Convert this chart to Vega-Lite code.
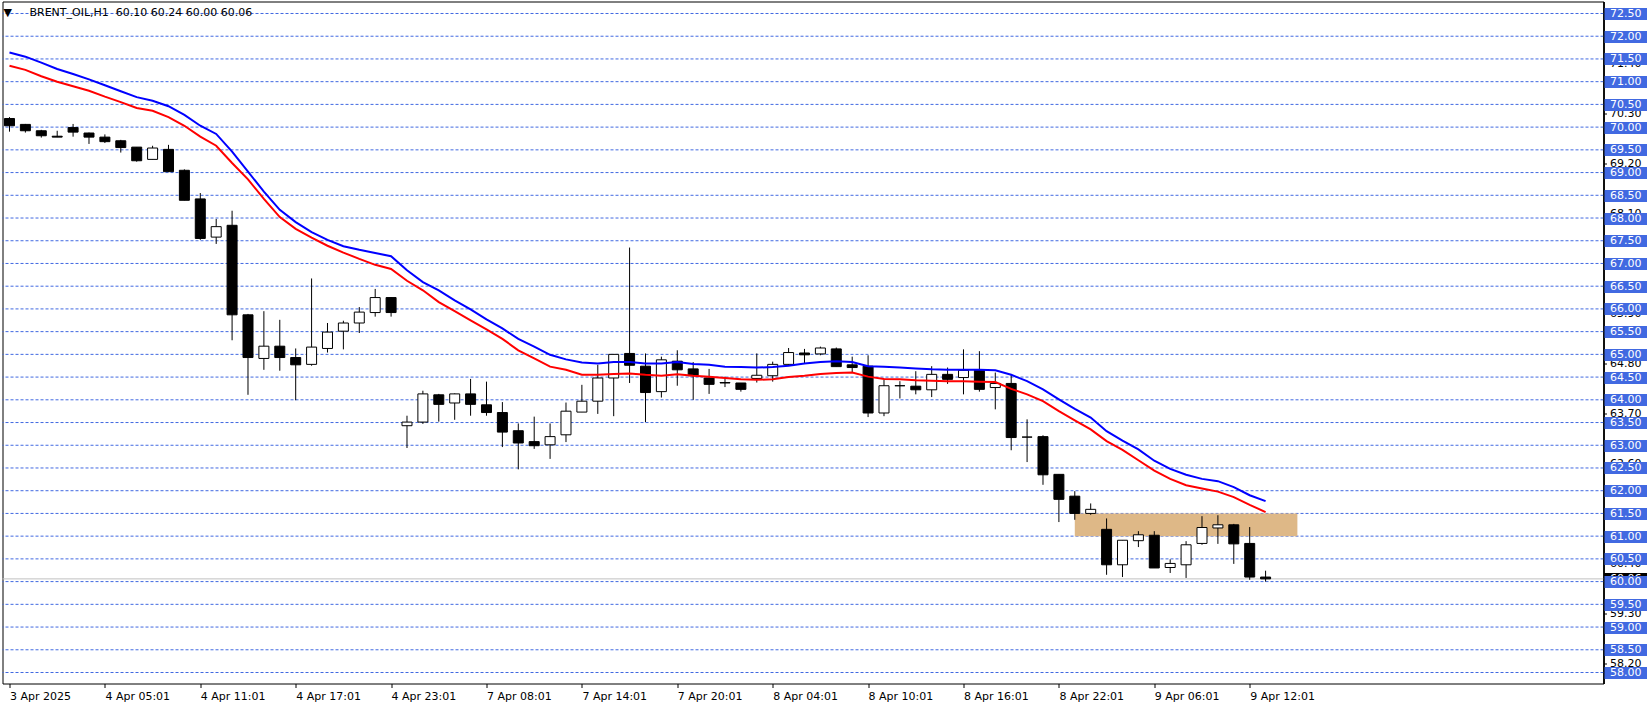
{
  "$schema": "https://vega.github.io/schema/vega-lite/v6.json",
  "width": 1601,
  "height": 682,
  "padding": {"left": 1.5, "top": 1.5, "right": 0, "bottom": 0},
  "background": "white",
  "title": {
    "text": "▼\u00a0\u00a0\u00a0\u00a0\u00a0BRENT_OIL,H1\u00a0\u00a060.10 60.24 60.00 60.06",
    "anchor": "start",
    "frame": "group",
    "orient": "top",
    "offset": -16,
    "dx": 1,
    "font": "DejaVu Sans",
    "fontSize": 11,
    "fontWeight": "normal",
    "color": "#000000"
  },
  "datasets": {
    "bars": [
      {"i": 0, "o": 70.19, "h": 70.22, "l": 69.90, "c": 70.03, "b": 71.64, "r": 71.35},
      {"i": 1, "o": 70.06, "h": 70.07, "l": 69.88, "c": 69.92, "b": 71.55, "r": 71.26},
      {"i": 2, "o": 69.92, "h": 69.94, "l": 69.77, "c": 69.81, "b": 71.42, "r": 71.12},
      {"i": 3, "o": 69.80, "h": 69.92, "l": 69.78, "c": 69.78, "b": 71.28, "r": 71.00},
      {"i": 4, "o": 69.99, "h": 70.07, "l": 69.79, "c": 69.89, "b": 71.17, "r": 70.90},
      {"i": 5, "o": 69.87, "h": 69.88, "l": 69.63, "c": 69.78, "b": 71.05, "r": 70.80},
      {"i": 6, "o": 69.78, "h": 69.84, "l": 69.65, "c": 69.68, "b": 70.92, "r": 70.67},
      {"i": 7, "o": 69.70, "h": 69.72, "l": 69.44, "c": 69.55, "b": 70.79, "r": 70.55},
      {"i": 8, "o": 69.56, "h": 69.56, "l": 69.24, "c": 69.26, "b": 70.66, "r": 70.42},
      {"i": 9, "o": 69.29, "h": 69.59, "l": 69.29, "c": 69.54, "b": 70.58, "r": 70.36},
      {"i": 10, "o": 69.51, "h": 69.61, "l": 69.02, "c": 69.02, "b": 70.46, "r": 70.22},
      {"i": 11, "o": 69.05, "h": 69.07, "l": 68.39, "c": 68.39, "b": 70.27, "r": 70.03},
      {"i": 12, "o": 68.42, "h": 68.55, "l": 67.52, "c": 67.55, "b": 70.03, "r": 69.79},
      {"i": 13, "o": 67.58, "h": 67.98, "l": 67.43, "c": 67.81, "b": 69.85, "r": 69.59},
      {"i": 14, "o": 67.84, "h": 68.16, "l": 65.31, "c": 65.87, "b": 69.46, "r": 69.21},
      {"i": 15, "o": 65.87, "h": 65.89, "l": 64.11, "c": 64.93, "b": 69.02, "r": 68.85},
      {"i": 16, "o": 64.91, "h": 65.95, "l": 64.66, "c": 65.18, "b": 68.58, "r": 68.42},
      {"i": 17, "o": 65.18, "h": 65.76, "l": 64.64, "c": 64.93, "b": 68.18, "r": 68.02},
      {"i": 18, "o": 64.93, "h": 65.13, "l": 63.99, "c": 64.77, "b": 67.91, "r": 67.76},
      {"i": 19, "o": 64.78, "h": 66.67, "l": 64.75, "c": 65.16, "b": 67.69, "r": 67.57},
      {"i": 20, "o": 65.13, "h": 65.69, "l": 65.04, "c": 65.49, "b": 67.52, "r": 67.39},
      {"i": 21, "o": 65.51, "h": 65.74, "l": 65.11, "c": 65.69, "b": 67.38, "r": 67.24},
      {"i": 22, "o": 65.69, "h": 66.04, "l": 65.47, "c": 65.93, "b": 67.30, "r": 67.10},
      {"i": 23, "o": 65.92, "h": 66.44, "l": 65.83, "c": 66.25, "b": 67.23, "r": 66.97},
      {"i": 24, "o": 66.25, "h": 66.26, "l": 65.83, "c": 65.92, "b": 67.16, "r": 66.88},
      {"i": 25, "o": 63.43, "h": 63.65, "l": 62.94, "c": 63.51, "b": 66.85, "r": 66.62},
      {"i": 26, "o": 63.51, "h": 64.20, "l": 63.47, "c": 64.13, "b": 66.59, "r": 66.41},
      {"i": 27, "o": 64.11, "h": 64.13, "l": 63.52, "c": 63.90, "b": 66.41, "r": 66.15},
      {"i": 28, "o": 63.93, "h": 64.14, "l": 63.56, "c": 64.13, "b": 66.19, "r": 65.95},
      {"i": 29, "o": 64.13, "h": 64.46, "l": 63.65, "c": 63.90, "b": 65.99, "r": 65.75},
      {"i": 30, "o": 63.89, "h": 64.40, "l": 63.65, "c": 63.72, "b": 65.77, "r": 65.55},
      {"i": 31, "o": 63.72, "h": 63.95, "l": 62.96, "c": 63.29, "b": 65.57, "r": 65.34},
      {"i": 32, "o": 63.32, "h": 63.48, "l": 62.47, "c": 63.05, "b": 65.34, "r": 65.09},
      {"i": 33, "o": 63.08, "h": 63.63, "l": 62.92, "c": 62.99, "b": 65.17, "r": 64.91},
      {"i": 34, "o": 63.01, "h": 63.48, "l": 62.70, "c": 63.19, "b": 64.99, "r": 64.73},
      {"i": 35, "o": 63.23, "h": 63.94, "l": 63.07, "c": 63.75, "b": 64.89, "r": 64.66},
      {"i": 36, "o": 63.73, "h": 64.33, "l": 63.73, "c": 63.97, "b": 64.82, "r": 64.55},
      {"i": 37, "o": 63.97, "h": 64.77, "l": 63.69, "c": 64.48, "b": 64.80, "r": 64.55},
      {"i": 38, "o": 64.48, "h": 65.00, "l": 63.64, "c": 65.00, "b": 64.83, "r": 64.57},
      {"i": 39, "o": 65.02, "h": 67.35, "l": 64.37, "c": 64.76, "b": 64.83, "r": 64.58},
      {"i": 40, "o": 64.74, "h": 65.02, "l": 63.51, "c": 64.16, "b": 64.80, "r": 64.55},
      {"i": 41, "o": 64.18, "h": 64.95, "l": 64.05, "c": 64.88, "b": 64.80, "r": 64.53},
      {"i": 42, "o": 64.85, "h": 65.09, "l": 64.31, "c": 64.66, "b": 64.83, "r": 64.56},
      {"i": 43, "o": 64.68, "h": 64.83, "l": 64.00, "c": 64.53, "b": 64.79, "r": 64.53},
      {"i": 44, "o": 64.48, "h": 64.68, "l": 64.13, "c": 64.34, "b": 64.77, "r": 64.51},
      {"i": 45, "o": 64.38, "h": 64.51, "l": 64.28, "c": 64.37, "b": 64.73, "r": 64.48},
      {"i": 46, "o": 64.37, "h": 64.37, "l": 64.18, "c": 64.23, "b": 64.72, "r": 64.45},
      {"i": 47, "o": 64.47, "h": 65.02, "l": 64.38, "c": 64.54, "b": 64.71, "r": 64.44},
      {"i": 48, "o": 64.53, "h": 64.84, "l": 64.40, "c": 64.78, "b": 64.72, "r": 64.45},
      {"i": 49, "o": 64.78, "h": 65.14, "l": 64.76, "c": 65.04, "b": 64.75, "r": 64.50},
      {"i": 50, "o": 65.03, "h": 65.12, "l": 64.81, "c": 64.99, "b": 64.80, "r": 64.53},
      {"i": 51, "o": 65.01, "h": 65.17, "l": 64.98, "c": 65.14, "b": 64.83, "r": 64.57},
      {"i": 52, "o": 65.12, "h": 65.15, "l": 64.73, "c": 64.73, "b": 64.85, "r": 64.59},
      {"i": 53, "o": 64.77, "h": 64.95, "l": 64.60, "c": 64.71, "b": 64.83, "r": 64.60},
      {"i": 54, "o": 64.74, "h": 64.98, "l": 63.62, "c": 63.71, "b": 64.74, "r": 64.51},
      {"i": 55, "o": 63.71, "h": 64.44, "l": 63.64, "c": 64.31, "b": 64.73, "r": 64.46},
      {"i": 56, "o": 64.31, "h": 64.41, "l": 64.03, "c": 64.31, "b": 64.71, "r": 64.45},
      {"i": 57, "o": 64.30, "h": 64.63, "l": 64.12, "c": 64.22, "b": 64.69, "r": 64.43},
      {"i": 58, "o": 64.22, "h": 64.74, "l": 64.06, "c": 64.56, "b": 64.67, "r": 64.42},
      {"i": 59, "o": 64.56, "h": 64.71, "l": 64.35, "c": 64.45, "b": 64.66, "r": 64.41},
      {"i": 60, "o": 64.49, "h": 65.11, "l": 64.12, "c": 64.65, "b": 64.66, "r": 64.41},
      {"i": 61, "o": 64.65, "h": 65.07, "l": 64.18, "c": 64.23, "b": 64.66, "r": 64.40},
      {"i": 62, "o": 64.27, "h": 64.60, "l": 63.79, "c": 64.36, "b": 64.65, "r": 64.39},
      {"i": 63, "o": 64.36, "h": 64.55, "l": 62.89, "c": 63.17, "b": 64.55, "r": 64.24},
      {"i": 64, "o": 63.18, "h": 63.57, "l": 62.63, "c": 63.18, "b": 64.41, "r": 64.12},
      {"i": 65, "o": 63.19, "h": 63.22, "l": 62.13, "c": 62.35, "b": 64.23, "r": 63.97},
      {"i": 66, "o": 62.36, "h": 62.36, "l": 61.31, "c": 61.81, "b": 64.01, "r": 63.75},
      {"i": 67, "o": 61.88, "h": 61.99, "l": 61.36, "c": 61.50, "b": 63.80, "r": 63.55},
      {"i": 68, "o": 61.50, "h": 61.72, "l": 61.47, "c": 61.59, "b": 63.61, "r": 63.35},
      {"i": 69, "o": 61.15, "h": 61.39, "l": 60.15, "c": 60.37, "b": 63.31, "r": 63.09},
      {"i": 70, "o": 60.37, "h": 60.91, "l": 60.10, "c": 60.91, "b": 63.10, "r": 62.90},
      {"i": 71, "o": 60.90, "h": 61.11, "l": 60.76, "c": 61.03, "b": 62.91, "r": 62.67},
      {"i": 72, "o": 61.02, "h": 61.11, "l": 60.30, "c": 60.30, "b": 62.66, "r": 62.44},
      {"i": 73, "o": 60.31, "h": 60.49, "l": 60.19, "c": 60.40, "b": 62.48, "r": 62.26},
      {"i": 74, "o": 60.37, "h": 60.89, "l": 60.08, "c": 60.81, "b": 62.35, "r": 62.12},
      {"i": 75, "o": 60.84, "h": 61.44, "l": 60.81, "c": 61.19, "b": 62.26, "r": 62.05},
      {"i": 76, "o": 61.18, "h": 61.46, "l": 60.83, "c": 61.25, "b": 62.21, "r": 61.98},
      {"i": 77, "o": 61.25, "h": 61.27, "l": 60.39, "c": 60.83, "b": 62.08, "r": 61.86},
      {"i": 78, "o": 60.84, "h": 61.20, "l": 60.04, "c": 60.10, "b": 61.90, "r": 61.69},
      {"i": 79, "o": 60.10, "h": 60.24, "l": 60.00, "c": 60.06, "b": 61.77, "r": 61.53}
    ],
    "levels": [
      {"p": 58.0}, {"p": 58.5}, {"p": 59.0}, {"p": 59.5}, {"p": 60.0}, {"p": 60.5},
      {"p": 61.0}, {"p": 61.5}, {"p": 62.0}, {"p": 62.5}, {"p": 63.0}, {"p": 63.5},
      {"p": 64.0}, {"p": 64.5}, {"p": 65.0}, {"p": 65.5}, {"p": 66.0}, {"p": 66.5},
      {"p": 67.0}, {"p": 67.5}, {"p": 68.0}, {"p": 68.5}, {"p": 69.0}, {"p": 69.5},
      {"p": 70.0}, {"p": 70.5}, {"p": 71.0}, {"p": 71.5}, {"p": 72.0}, {"p": 72.5}
    ],
    "zone": [{"x1": 67, "x2": 81, "y1": 61.0, "y2": 61.5}],
    "bid": [{"p": 60.06}]
  },
  "layer": [
    {
      "data": {"name": "levels"},
      "mark": {"type": "rule", "color": "#4169E1", "strokeWidth": 1, "strokeDash": [3, 2]},
      "encoding": {
        "y": {
          "field": "p", "type": "quantitative",
          "scale": {"domain": [57.758, 72.764], "nice": false, "zero": false},
          "axis": {
            "orient": "right", "title": null, "grid": false, "zindex": 1,
            "values": [58, 58.5, 59, 59.5, 60, 60.5, 61, 61.5, 62, 62.5, 63, 63.5, 64, 64.5, 65, 65.5, 66, 66.5, 67, 67.5, 68, 68.5, 69, 69.5, 70, 70.5, 71, 71.5, 72, 72.5],
            "format": ".2f",
            "tickColor": "#4169E1", "tickWidth": 12, "tickSize": 43,
            "labelColor": "#FFFFFF", "labelPadding": -37,
            "labelFont": "DejaVu Sans", "labelFontSize": 11,
            "labelOverlap": false, "labelFlush": false,
            "domainColor": "#000000", "domainWidth": 1
          }
        }
      }
    },
    {
      "data": {"name": "bid"},
      "mark": {"type": "rule", "color": "#C0C0C0", "strokeWidth": 1},
      "encoding": {
        "y": {
          "field": "p", "type": "quantitative",
          "scale": {"domain": [57.758, 72.764], "nice": false, "zero": false},
          "axis": {
            "orient": "right", "title": null, "grid": false, "zindex": 0,
            "values": [60.06], "format": ".2f",
            "tickColor": "#000000", "tickWidth": 12, "tickSize": 43,
            "labelColor": "#FFFFFF", "labelPadding": -37,
            "labelFont": "DejaVu Sans", "labelFontSize": 11,
            "labelOverlap": false, "labelFlush": false,
            "domainColor": "#000000"
          }
        }
      }
    },
    {
      "data": {"name": "zone"},
      "mark": {"type": "rect", "color": "#DEB887"},
      "encoding": {
        "x": {"field": "x1", "type": "quantitative", "title": null, "scale": {"domain": [-0.125, 99.9375], "nice": false, "zero": false}},
        "x2": {"field": "x2"},
        "y": {"field": "y1", "type": "quantitative", "scale": {"domain": [57.758, 72.764], "nice": false, "zero": false}, "axis": null},
        "y2": {"field": "y2"}
      }
    },
    {
      "data": {"name": "bars"},
      "mark": {"type": "rule", "color": "#000000", "strokeWidth": 1},
      "encoding": {
        "x": {
          "field": "i", "type": "quantitative", "title": null,
          "scale": {"domain": [-0.125, 99.9375], "nice": false, "zero": false},
          "axis": {
            "values": [0, 6, 12, 18, 24, 30, 36, 42, 48, 54, 60, 66, 72, 78],
            "labelExpr": "['3 Apr 2025','4 Apr 05:01','4 Apr 11:01','4 Apr 17:01','4 Apr 23:01','7 Apr 08:01','7 Apr 14:01','7 Apr 20:01','8 Apr 04:01','8 Apr 10:01','8 Apr 16:01','8 Apr 22:01','9 Apr 06:01','9 Apr 12:01'][round(datum.value / 6)]",
            "labelAlign": "left", "labelBaseline": "top", "labelPadding": 3,
            "labelFont": "DejaVu Sans", "labelFontSize": 11, "labelColor": "#000000",
            "labelFlush": false, "labelOverlap": false, "labelBound": false,
            "tickSize": 4, "tickColor": "#000000", "domain": false, "grid": false
          }
        },
        "y": {"field": "l", "type": "quantitative", "scale": {"domain": [57.758, 72.764], "nice": false, "zero": false}, "axis": null},
        "y2": {"field": "h"}
      }
    },
    {
      "data": {"name": "bars"},
      "mark": {"type": "bar", "size": 10, "stroke": "#000000", "strokeWidth": 1},
      "encoding": {
        "x": {"field": "i", "type": "quantitative", "title": null, "scale": {"domain": [-0.125, 99.9375], "nice": false, "zero": false}},
        "y": {
          "field": "o", "type": "quantitative",
          "scale": {"domain": [57.758, 72.764], "nice": false, "zero": false},
          "axis": {
            "orient": "right", "title": null, "grid": false, "zindex": 0,
            "values": [58.2, 59.3, 60.4, 61.5, 62.6, 63.7, 64.8, 65.9, 67.0, 68.1, 69.2, 70.3, 71.4, 72.5],
            "format": ".2f",
            "tickColor": "#000000", "tickSize": 3, "labelPadding": 3,
            "labelColor": "#000000", "labelFont": "DejaVu Sans", "labelFontSize": 11,
            "labelOverlap": false, "labelFlush": false,
            "domainColor": "#000000"
          }
        },
        "y2": {"field": "c"},
        "fill": {"condition": {"test": "datum.c >= datum.o", "value": "#FFFFFF"}, "value": "#000000"}
      }
    },
    {
      "data": {"name": "bars"},
      "mark": {"type": "line", "color": "#0000FF", "strokeWidth": 2},
      "encoding": {
        "x": {"field": "i", "type": "quantitative", "title": null, "scale": {"domain": [-0.125, 99.9375], "nice": false, "zero": false}},
        "y": {"field": "b", "type": "quantitative", "scale": {"domain": [57.758, 72.764], "nice": false, "zero": false}, "axis": null}
      }
    },
    {
      "data": {"name": "bars"},
      "mark": {"type": "line", "color": "#FF0000", "strokeWidth": 2},
      "encoding": {
        "x": {"field": "i", "type": "quantitative", "title": null, "scale": {"domain": [-0.125, 99.9375], "nice": false, "zero": false}},
        "y": {"field": "r", "type": "quantitative", "scale": {"domain": [57.758, 72.764], "nice": false, "zero": false}, "axis": null}
      }
    }
  ],
  "resolve": {"axis": {"y": "independent"}},
  "config": {
    "view": {"stroke": "#000000", "strokeWidth": 1},
    "font": "DejaVu Sans"
  }
}
